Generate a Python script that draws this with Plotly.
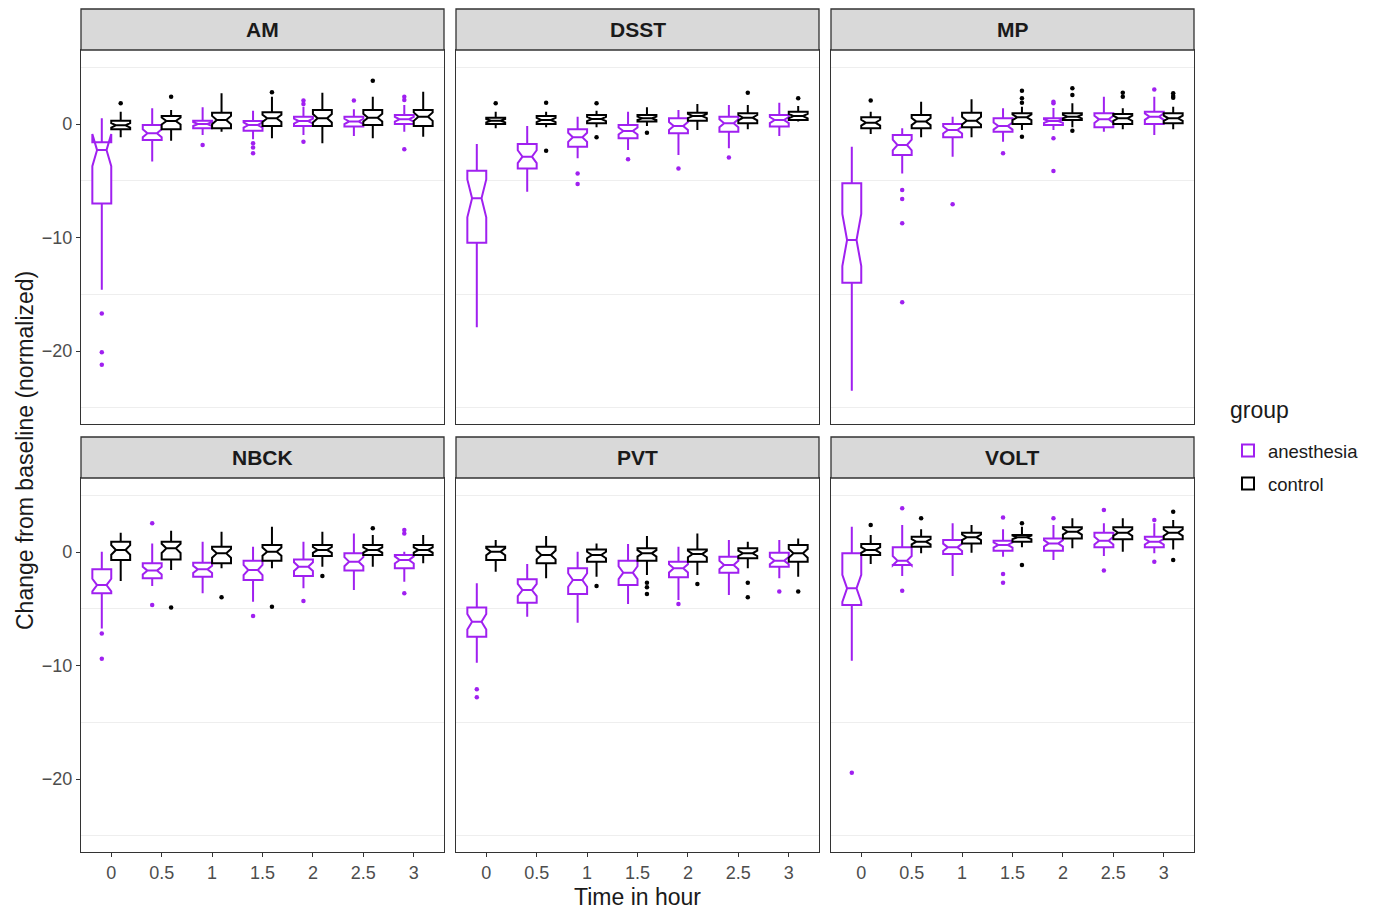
import math
import plotly.graph_objects as go

# ---------------- data ----------------
panels = ["AM", "DSST", "MP", "NBCK", "PVT", "VOLT"]
groups = ["anesthesia", "control"]
time_labels = ["0", "0.5", "1", "1.5", "2", "2.5", "3"]
y_tick_vals = [-20, -10, 0]
y_tick_text = ["\u221220", "\u221210", "0"]
n_per_box = 36  # approximate sample size used for notch span

# AM
AM_anesthesia_low = [-14.6, -3.3, -0.97, -1.35, -0.97, -1.06, -0.68]
AM_anesthesia_q1 = [-7.0, -1.41, -0.38, -0.59, -0.18, -0.23, 0.0]
AM_anesthesia_med = [-2.3, -0.82, 0.0, -0.09, 0.26, 0.23, 0.41]
AM_anesthesia_q3 = [-1.6, -0.09, 0.29, 0.26, 0.65, 0.65, 0.79]
AM_anesthesia_high = [0.5, 1.38, 1.47, 1.17, 1.53, 1.29, 1.67]
AM_anesthesia_out = [[-16.7, -20.1, -21.2], [], [-1.85], [-1.7, -2.06, -2.58], [2.06, 1.76, -1.56], [2.06], [2.41, 2.11, -2.23]]
AM_control_low = [-1.17, -1.47, -0.68, -1.26, -1.7, -1.26, -1.12]
AM_control_q1 = [-0.47, -0.47, -0.38, -0.18, -0.18, -0.09, -0.18]
AM_control_med = [-0.12, 0.26, 0.35, 0.5, 0.5, 0.56, 0.65]
AM_control_q3 = [0.29, 0.7, 1.0, 1.03, 1.23, 1.23, 1.23]
AM_control_high = [1.09, 1.23, 2.7, 2.4, 2.76, 2.41, 2.85]
AM_control_out = [[1.82], [2.41], [], [2.79], [], [3.82], []]

# DSST
DSST_anesthesia_low = [-17.9, -5.96, -3.02, -2.29, -2.73, -2.14, -1.06]
DSST_anesthesia_q1 = [-10.46, -3.91, -2.0, -1.26, -0.82, -0.68, -0.23]
DSST_anesthesia_med = [-6.55, -2.88, -1.17, -0.62, -0.18, 0.06, 0.35]
DSST_anesthesia_q3 = [-4.11, -1.76, -0.47, -0.09, 0.5, 0.65, 0.79]
DSST_anesthesia_high = [-1.76, -0.18, 0.65, 1.09, 1.23, 1.67, 1.88]
DSST_anesthesia_out = [[], [], [-4.35, -5.29], [-3.11], [-3.91], [-2.94], []]
DSST_control_low = [-0.38, -0.29, -0.29, -0.18, -0.53, -0.47, 0.21]
DSST_control_q1 = [0.0, 0.0, 0.06, 0.21, 0.29, 0.06, 0.35]
DSST_control_med = [0.29, 0.35, 0.44, 0.5, 0.7, 0.56, 0.7]
DSST_control_q3 = [0.56, 0.7, 0.79, 0.79, 1.0, 0.94, 1.09]
DSST_control_high = [1.09, 1.09, 1.17, 1.47, 1.76, 1.67, 1.59]
DSST_control_out = [[1.82], [1.88, -2.35], [1.82, -1.17], [-0.76], [], [2.76], [2.26]]

# MP
MP_anesthesia_low = [-23.5, -4.35, -2.88, -1.56, -0.53, -0.68, -0.97]
MP_anesthesia_q1 = [-13.98, -2.73, -1.17, -0.68, -0.09, -0.29, 0.0]
MP_anesthesia_med = [-10.22, -1.85, -0.53, -0.18, 0.26, 0.41, 0.65]
MP_anesthesia_q3 = [-5.23, -0.97, 0.0, 0.5, 0.5, 0.94, 1.09]
MP_anesthesia_high = [-2.0, -0.38, 0.65, 1.38, 1.4, 2.41, 2.41]
MP_anesthesia_out = [[], [-5.82, -6.61, -8.75, -15.71], [-7.08], [-2.58], [1.97, 1.82, -1.26, -4.14], [], [3.05]]
MP_control_low = [-0.88, -1.17, -1.17, -0.53, -0.29, -0.47, -0.47]
MP_control_q1 = [-0.38, -0.38, -0.29, 0.0, 0.35, 0.0, 0.06]
MP_control_med = [0.12, 0.21, 0.29, 0.59, 0.65, 0.5, 0.5]
MP_control_q3 = [0.59, 0.79, 1.0, 0.94, 0.94, 0.88, 0.94]
MP_control_high = [1.09, 1.97, 2.17, 1.53, 1.82, 1.38, 1.53]
MP_control_out = [[2.06], [], [], [2.94, 2.26, 1.88, -1.12], [3.14, 2.56, -0.59], [2.76, 2.41], [2.7, 2.47, 2.32]]

# NBCK
NBCK_anesthesia_low = [-6.73, -3.0, -3.64, -4.38, -3.2, -3.35, -2.61]
NBCK_anesthesia_q1 = [-3.64, -2.32, -2.17, -2.47, -2.11, -1.64, -1.44]
NBCK_anesthesia_med = [-2.91, -1.64, -1.53, -1.59, -1.29, -0.85, -0.7]
NBCK_anesthesia_q3 = [-1.53, -1.0, -0.94, -0.76, -0.65, -0.12, -0.26]
NBCK_anesthesia_high = [0.03, 0.76, 0.91, 0.47, 0.91, 1.64, 0.03]
NBCK_anesthesia_out = [[-7.17, -9.4], [2.53, -4.67], [], [-5.64], [-4.32], [], [1.94, 1.64, -3.64]]
NBCK_control_low = [-2.56, -1.59, -1.44, -1.44, -1.29, -1.29, -1.0]
NBCK_control_q1 = [-0.7, -0.65, -1.0, -0.76, -0.35, -0.26, -0.26]
NBCK_control_med = [0.18, 0.32, -0.12, 0.03, 0.18, 0.18, 0.18]
NBCK_control_q3 = [0.91, 0.91, 0.47, 0.62, 0.62, 0.62, 0.62]
NBCK_control_high = [1.7, 1.88, 1.79, 2.23, 1.79, 1.5, 1.5]
NBCK_control_out = [[], [-4.88], [-3.99], [-4.82], [-2.11], [2.09], []]

# PVT
PVT_anesthesia_low = [-9.75, -5.7, -6.23, -4.58, -4.23, -3.79, -2.32]
PVT_anesthesia_q1 = [-7.46, -4.46, -3.7, -2.91, -2.23, -1.82, -1.29]
PVT_anesthesia_med = [-6.14, -3.35, -2.47, -1.82, -1.44, -1.15, -0.76]
PVT_anesthesia_q3 = [-4.88, -2.41, -1.44, -0.76, -0.85, -0.41, -0.06]
PVT_anesthesia_high = [-2.76, -1.06, 0.03, 0.7, 0.47, 1.06, 1.06]
PVT_anesthesia_out = [[-12.1, -12.8], [], [], [], [-4.58], [], [-3.49]]
PVT_control_low = [-1.73, -2.32, -2.17, -2.03, -2.03, -1.44, -2.17]
PVT_control_q1 = [-0.7, -1.0, -0.85, -0.76, -0.85, -0.56, -0.85]
PVT_control_med = [0.03, -0.26, -0.26, -0.12, -0.18, -0.12, -0.12]
PVT_control_q3 = [0.47, 0.47, 0.23, 0.32, 0.23, 0.32, 0.62]
PVT_control_high = [1.06, 1.41, 0.76, 1.41, 1.64, 0.91, 1.2]
PVT_control_out = [[], [], [-3.0], [-2.7, -3.11, -3.7], [-2.82], [-2.7, -3.99], [-3.49]]

# VOLT
VOLT_anesthesia_low = [-9.57, -2.11, -2.11, -0.41, -0.7, -0.35, -0.12]
VOLT_anesthesia_q1 = [-4.67, -1.15, -0.18, 0.12, 0.12, 0.41, 0.41]
VOLT_anesthesia_med = [-3.2, -0.76, 0.41, 0.62, 0.76, 1.0, 0.91]
VOLT_anesthesia_q3 = [-0.12, 0.41, 1.06, 1.0, 1.2, 1.7, 1.35]
VOLT_anesthesia_high = [2.23, 2.38, 2.53, 2.0, 2.38, 2.53, 2.53]
VOLT_anesthesia_out = [[-19.44], [3.85, -3.41], [], [3.05, -1.94, -2.7], [2.97], [3.7, -1.64], [2.82, -0.85]]
VOLT_control_low = [-1.06, -0.12, -0.06, 0.41, 0.32, 0.03, 0.23]
VOLT_control_q1 = [-0.26, 0.47, 0.76, 0.91, 1.2, 1.12, 1.12]
VOLT_control_med = [0.18, 0.91, 1.29, 1.29, 1.79, 1.7, 1.7]
VOLT_control_q3 = [0.7, 1.35, 1.7, 1.5, 2.17, 2.17, 2.17]
VOLT_control_high = [1.5, 2.0, 2.38, 2.23, 2.97, 2.97, 2.82]
VOLT_control_out = [[2.38], [2.97], [], [2.53, -1.15], [], [], [3.55, -0.7]]

# ---------------- styling / layout ----------------
W, H = 1390, 909
FONT = "Liberation Sans, Arial, sans-serif"
colors = {"anesthesia": "#A020F0", "control": "#000000"}
dodge = {"anesthesia": -0.1875, "control": 0.1875}
box_w = 0.375

col_px = [(81, 444), (456, 819), (831, 1194)]
row_plot_px = [(50, 424), (478, 852)]
row_strip_px = [(9, 50), (437, 478)]


def fx(p):
    return p / W


def fy(p):
    return 1 - p / H


g = globals()
fig = go.Figure()
layout = {}
shapes = []
annotations = []

for k, panel in enumerate(panels):
    r, c = divmod(k, 3)
    n = "" if k == 0 else str(k + 1)
    xa, ya = "x" + n, "y" + n
    for grp in groups:
        pre = f"{panel}_{grp}_"
        q1 = g[pre + "q1"]
        q3 = g[pre + "q3"]
        med = g[pre + "med"]
        lo = g[pre + "low"]
        hi = g[pre + "high"]
        outs = g[pre + "out"]
        notch = [1.58 * (b - a) / math.sqrt(n_per_box) for a, b in zip(q1, q3)]
        xs = [i + dodge[grp] for i in range(len(time_labels))]
        fig.add_trace(go.Box(
            x=xs, q1=q1, median=med, q3=q3, lowerfence=lo, upperfence=hi,
            notchspan=notch, notched=True, notchwidth=0.25, width=box_w,
            whiskerwidth=0, boxpoints=False, fillcolor="white",
            line=dict(color=colors[grp], width=2),
            name=grp, legendgroup=grp, showlegend=(k == 0),
            xaxis=xa, yaxis=ya, hoverinfo="skip",
        ))
        ox, oy = [], []
        for i, vals in enumerate(outs):
            for v in vals:
                ox.append(i + dodge[grp])
                oy.append(v)
        fig.add_trace(go.Scatter(
            x=ox, y=oy, mode="markers",
            marker=dict(color=colors[grp], size=4.5),
            showlegend=False, legendgroup=grp, xaxis=xa, yaxis=ya,
            hoverinfo="skip",
        ))

    x0, x1 = col_px[c]
    p0, p1 = row_plot_px[r]
    s0, s1 = row_strip_px[r]
    layout["xaxis" + n] = dict(
        domain=[fx(x0), fx(x1)], anchor=ya, range=[-0.6, 6.6],
        tickmode="array", tickvals=list(range(len(time_labels))), ticktext=time_labels,
        showticklabels=(r == 1), ticks=("outside" if r == 1 else ""),
        ticklen=4, tickwidth=1.2, tickcolor="#333333",
        tickfont=dict(size=18, color="#4D4D4D", family=FONT),
        showline=True, mirror=True, linecolor="#333333", linewidth=1.3,
        showgrid=False, zeroline=False, automargin=False, fixedrange=True,
    )
    layout["yaxis" + n] = dict(
        domain=[fy(p1), fy(p0)], anchor=xa, range=[-26.43, 6.52],
        tickmode="array", tickvals=y_tick_vals, ticktext=y_tick_text,
        showticklabels=(c == 0), ticks=("outside" if c == 0 else ""),
        ticklen=4, tickwidth=1.2, tickcolor="#333333",
        tickfont=dict(size=18, color="#4D4D4D", family=FONT),
        showline=True, mirror=True, linecolor="#333333", linewidth=1.3,
        showgrid=False, zeroline=False, automargin=False, fixedrange=True,
        minor=dict(tick0=-25, dtick=10, showgrid=True, gridcolor="#EEEEEE", gridwidth=1, ticks=""),
    )
    shapes.append(dict(type="rect", xref="paper", yref="paper",
                       x0=fx(x0), x1=fx(x1), y0=fy(s1), y1=fy(s0),
                       fillcolor="#D9D9D9", line=dict(color="#333333", width=1.3)))
    annotations.append(dict(text=f"<b>{panel}</b>", xref="paper", yref="paper",
                            x=fx((x0 + x1) / 2), y=fy((s0 + s1) / 2),
                            xanchor="center", yanchor="middle", showarrow=False,
                            font=dict(size=21, color="#1A1A1A", family=FONT)))

annotations.append(dict(text="Time in hour", xref="paper", yref="paper",
                        x=fx(637.5), y=fy(897), xanchor="center", yanchor="middle",
                        showarrow=False,
                        font=dict(size=23, color="#1A1A1A", family=FONT)))
annotations.append(dict(text="Change from baseline (normalized)", xref="paper", yref="paper",
                        x=fx(25), y=fy(451), xanchor="center", yanchor="middle",
                        textangle=-90, showarrow=False,
                        font=dict(size=23, color="#1A1A1A", family=FONT)))
# legend title
annotations.append(dict(text="group", xref="paper", yref="paper",
                        x=fx(1228), y=fy(410), xanchor="left", yanchor="middle",
                        showarrow=False,
                        font=dict(size=23, color="#1A1A1A", family=FONT)))

fig.update_layout(
    width=W, height=H,
    margin=dict(l=0, r=0, t=0, b=0),
    paper_bgcolor="white", plot_bgcolor="white",
    boxmode="overlay",
    shapes=shapes, annotations=annotations,
    legend=dict(
        x=fx(1228), y=fy(432), xanchor="left", yanchor="top",
        font=dict(size=18.5, color="#1A1A1A", family=FONT),
        bgcolor="rgba(0,0,0,0)", tracegroupgap=6, traceorder="grouped",
    ),
    **layout,
)

fig.write_html("out.html", config={"displayModeBar": False},
               post_script="document.body.style.margin='0';document.body.style.padding='0';")
